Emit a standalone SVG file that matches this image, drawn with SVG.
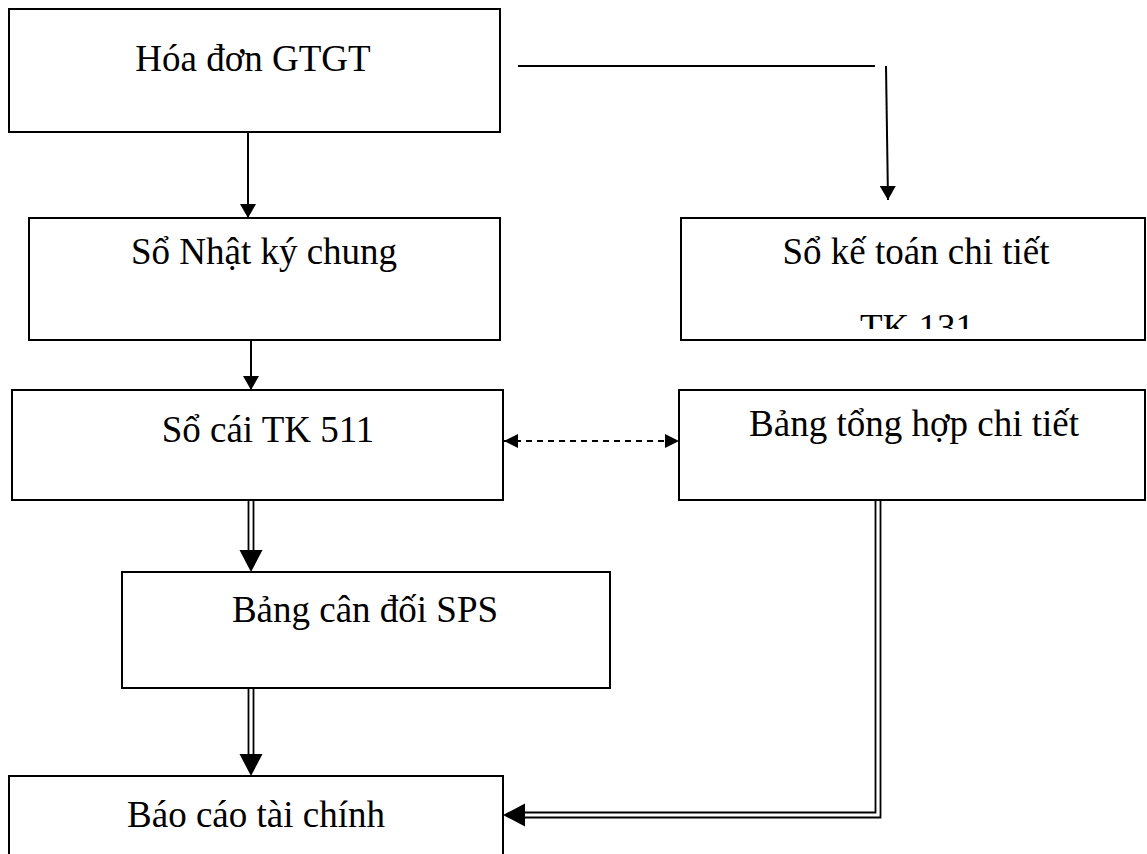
<svg xmlns="http://www.w3.org/2000/svg" width="1147" height="854" viewBox="0 0 1147 854">
<style>
.box{fill:#fff;stroke:#000;stroke-width:2}
.t{font-family:"Liberation Serif","Times New Roman",serif;font-size:37px;fill:#000;text-anchor:middle}
.ln{stroke:#000;stroke-width:2;fill:none}
.dbl{stroke:#000;stroke-width:1.8;fill:none}
.head{fill:#000}
</style>
<defs>
<marker id="ah" viewBox="0 0 14 16" refX="14" refY="8" markerWidth="14" markerHeight="16" markerUnits="userSpaceOnUse" orient="auto"><path d="M0,0 L14,8 L0,16 Z" fill="#000"/></marker>
<marker id="ahs" viewBox="0 0 14 14" refX="14" refY="7" markerWidth="14" markerHeight="14" markerUnits="userSpaceOnUse" orient="auto-start-reverse"><path d="M0,0 L14,7 L0,14 Z" fill="#000"/></marker>
<clipPath id="c131"><rect x="681" y="218" width="466" height="111"/></clipPath>
</defs>
<g id="n1"><rect class="box" x="9" y="9" width="491" height="123"/><text class="t" x="253" y="71">Hóa đơn GTGT</text></g>
<g id="n2"><rect class="box" x="29" y="218" width="471" height="122"/><text class="t" x="264" y="264">Sổ Nhật ký chung</text></g>
<g id="n3"><rect class="box" x="681" y="218" width="464" height="122"/><text class="t" x="916" y="264">Sổ kế toán chi tiết</text><text class="t" x="917" y="340" clip-path="url(#c131)">TK 131</text></g>
<g id="n4"><rect class="box" x="12" y="390" width="491" height="110"/><text class="t" x="268" y="442">Sổ cái TK 511</text></g>
<g id="n5"><rect class="box" x="679" y="390" width="466" height="110"/><text class="t" x="914" y="436">Bảng tổng hợp chi tiết</text></g>
<g id="n6"><rect class="box" x="122" y="572" width="488" height="116"/><text class="t" x="365" y="622">Bảng cân đối SPS</text></g>
<g id="n7"><rect class="box" x="9" y="776" width="494" height="90"/><text class="t" x="256" y="827">Báo cáo tài chính</text></g>
<g id="connectors">
<line class="ln" x1="248" y1="132" x2="248" y2="218" marker-end="url(#ah)"/>
<line class="ln" x1="518" y1="66" x2="875" y2="66"/>
<line class="ln" x1="886" y1="66" x2="888" y2="200" marker-end="url(#ah)"/>
<line class="ln" x1="251" y1="340" x2="251" y2="390" marker-end="url(#ah)"/>
<line class="ln" x1="504" y1="441" x2="679" y2="441" stroke-dasharray="6,5" marker-start="url(#ahs)" marker-end="url(#ahs)"/>
<path class="dbl" d="M248.5,500 V552 M253.5,500 V552"/>
<path class="head" d="M239.5,550 L262.5,550 L251,572 Z"/>
<path class="dbl" d="M248.5,688 V756 M253.5,688 V756"/>
<path class="head" d="M239.5,754 L262.5,754 L251,776 Z"/>
<path class="dbl" d="M875.5,500 V812.5 H522 M880.5,500 V817.5 H522"/>
<path class="head" d="M525,803.5 L525,826.5 L503,815 Z"/>
</g>
</svg>
